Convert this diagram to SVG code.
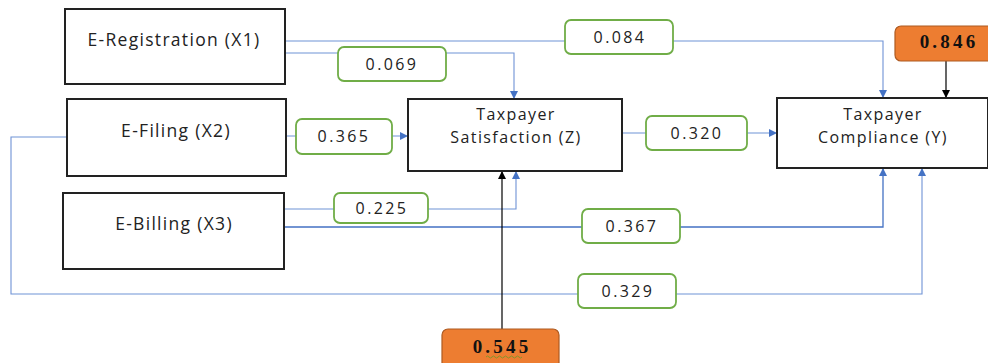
<svg xmlns="http://www.w3.org/2000/svg" width="988" height="363" viewBox="0 0 988 363">
<defs>
<marker id="ab" viewBox="0 0 10 10" refX="10" refY="5" markerWidth="8" markerHeight="8" markerUnits="userSpaceOnUse" orient="auto"><path d="M0,0 L10,5 L0,10 z" fill="#4472C4"/></marker>
<marker id="ak" viewBox="0 0 10 10" refX="10" refY="5" markerWidth="8" markerHeight="8" markerUnits="userSpaceOnUse" orient="auto"><path d="M0,0 L10,5 L0,10 z" fill="#000"/></marker>
<style>
.node{fill:#fff;stroke:#222;stroke-width:2}
.t{font-family:"Open Sans","Liberation Sans",sans-serif;font-size:17.5px;fill:#222;text-anchor:middle;letter-spacing:1.3px}
.t2{font-family:"Open Sans","Liberation Sans",sans-serif;font-size:16px;fill:#222;text-anchor:middle;letter-spacing:1.4px}
.lab{fill:#fff;stroke:#70AD47;stroke-width:1.8}
.n{font-family:"Open Sans","Liberation Sans",sans-serif;font-size:16px;fill:#222;text-anchor:middle;letter-spacing:2.4px}
.or{fill:#ED7D31;stroke:#AE5A21;stroke-width:1.2}
.o{font-family:"Liberation Serif","Times New Roman",serif;font-weight:bold;font-size:19px;fill:#111;text-anchor:middle;letter-spacing:3.2px}
.c{fill:none;stroke:#6F93D6;stroke-width:1.1}
.d{fill:none;stroke:#4472C4;stroke-width:1.3}
.k{fill:none;stroke:#000;stroke-width:1.2}
</style>
</defs>
<g id="connectors">
<polyline class="c" points="285,41 883,41 883,98" marker-end="url(#ab)"/>
<polyline class="c" points="285,53 514,53 514,99" marker-end="url(#ab)"/>
<polyline class="c" points="286,136 408,136" marker-end="url(#ab)"/>
<polyline class="c" points="622,133 777,133" marker-end="url(#ab)"/>
<polyline class="c" points="284,209 516,209 516,171" marker-end="url(#ab)"/>
<polyline class="d" points="284,227 883,227 883,168" marker-end="url(#ab)"/>
<polyline class="c" points="67,137 11,137 11,294 922,294 922,168" marker-end="url(#ab)"/>
<polyline class="k" points="502,329 502,171" marker-end="url(#ak)"/>
<polyline class="k" points="946,61 946,98" marker-end="url(#ak)"/>
</g>
<g id="x1"><rect class="node" x="65" y="9" width="220" height="75"/><text class="t" x="174" y="46">E-Registration (X1)</text></g>
<g id="x2"><rect class="node" x="67" y="99" width="219" height="77"/><text class="t" x="176" y="137">E-Filing (X2)</text></g>
<g id="x3"><rect class="node" x="63" y="193" width="221" height="76"/><text class="t" x="174" y="230">E-Billing (X3)</text></g>
<g id="z"><rect class="node" x="408" y="99" width="214" height="72"/><text class="t2" x="516" y="120">Taxpayer</text><text class="t2" x="516" y="143">Satisfaction (Z)</text></g>
<g id="y"><rect class="node" x="777" y="98" width="211" height="70"/><text class="t2" x="883" y="120">Taxpayer</text><text class="t2" x="883" y="143">Compliance (Y)</text></g>
<g id="l069"><rect class="lab" x="338" y="47" width="108" height="34" rx="6"/><text class="n" x="392" y="70">0.069</text></g>
<g id="l084"><rect class="lab" x="565" y="20" width="108" height="34" rx="6"/><text class="n" x="620" y="43">0.084</text></g>
<g id="l365"><rect class="lab" x="296" y="119" width="96" height="35" rx="6"/><text class="n" x="344" y="142">0.365</text></g>
<g id="l320"><rect class="lab" x="646" y="116" width="101" height="34" rx="6"/><text class="n" x="697" y="139">0.320</text></g>
<g id="l225"><rect class="lab" x="334" y="193" width="94" height="30" rx="6"/><text class="n" x="382" y="214">0.225</text></g>
<g id="l367"><rect class="lab" x="582" y="209" width="98" height="34" rx="6"/><text class="n" x="632" y="232">0.367</text></g>
<g id="l329"><rect class="lab" x="578" y="274" width="98" height="34" rx="6"/><text class="n" x="628" y="297">0.329</text></g>
<g id="r846"><rect class="or" x="895" y="26" width="100" height="35" rx="6"/><text class="o" x="949" y="48">0.846</text></g>
<g id="r545"><rect class="or" x="442" y="329" width="117" height="40" rx="6"/><text class="o" x="502" y="353">0.545</text><path d="M486,357 q1.5,-2 3,0 t3,0 t3,0 t3,0 t3,0 t3,0 t3,0 t3,0 t3,0 t3,0 t3,0 t3,0" fill="none" stroke="#6a9a2a" stroke-width="0.8"/></g>
</svg>
